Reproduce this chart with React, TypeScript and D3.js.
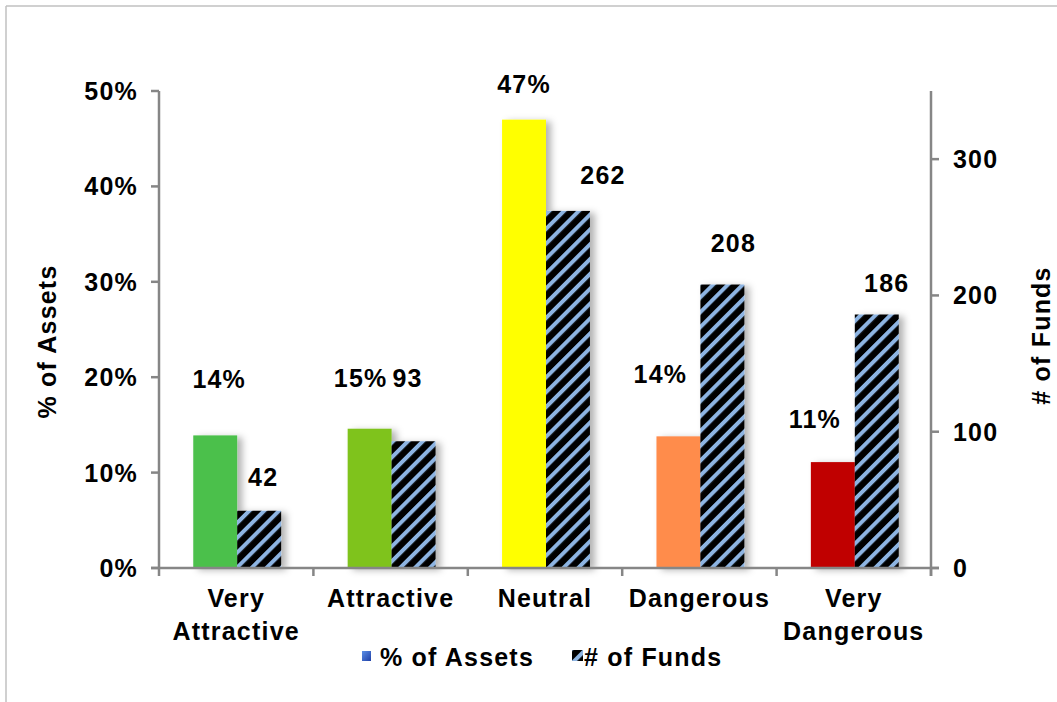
import * as d3 from "d3";
import { useEffect, useRef } from "react";

// data
const categories = ["Very Attractive", "Attractive", "Neutral", "Dangerous", "Very Dangerous"];
const assetsPct = [0.139, 0.146, 0.47, 0.138, 0.111];
const fundsCount = [42, 93, 262, 208, 186];
const barColors = ["#4cc04c", "#7fc31c", "#ffff00", "#ff8c4c", "#c00000"];
const leftTicks = [0, 0.1, 0.2, 0.3, 0.4, 0.5];
const rightTicks = [0, 100, 200, 300];

// hand nudges for the value labels (they sit unevenly in the original)
const assetNudge = [[5, 21], [-8, 16], [1, 1], [-17, 27], [-17, 8]];
const fundNudge = [[5, -1], [-5, 28], [36, 1], [12, 7], [11, -3]];

const W = 1057;
const H = 702;
const margin = { top: 91, bottom: 135, left: 159, right: 126 };

const App = () => {
  const ref = useRef<SVGSVGElement | null>(null);

  useEffect(() => {
    const svg = d3.select(ref.current);
    svg.selectAll("*").remove();

    const x0 = margin.left;
    const x1 = W - margin.right;
    const yBottom = H - margin.bottom + 1;
    const yTop = margin.top;

    const font = "'Liberation Sans', Arial, sans-serif";

    const scaleX = d3.scaleBand().domain(categories).range([x0, x1]);
    const scaleSub = d3
      .scaleBand()
      .domain(["assets", "funds"])
      .range([0, scaleX.bandwidth()])
      .paddingOuter(0.757);
    const yLeft = d3.scaleLinear().domain([0, 0.5]).range([yBottom, yTop]);
    const yRight = d3.scaleLinear().domain([0, 350]).range([yBottom, yTop]);

    const defs = svg.append("defs");
    const pat = defs
      .append("pattern")
      .attr("id", "hatch")
      .attr("patternUnits", "userSpaceOnUse")
      .attr("width", 10.5)
      .attr("height", 10.5)
      .attr("patternTransform", "rotate(45)");
    pat.append("rect").attr("width", 10.5).attr("height", 10.5).attr("fill", "#000");
    pat.append("rect").attr("width", 4).attr("height", 10.5).attr("fill", "#8db4e2");

    const shadow = defs.append("filter").attr("id", "shadow").attr("x", "-20%").attr("y", "-10%").attr("width", "160%").attr("height", "130%");
    shadow
      .append("feDropShadow")
      .attr("dx", 5)
      .attr("dy", 2)
      .attr("stdDeviation", 3.5)
      .attr("flood-color", "#000")
      .attr("flood-opacity", 0.3);

    const grad = defs.append("linearGradient").attr("id", "legendBlue").attr("x1", 0).attr("y1", 0).attr("x2", 1).attr("y2", 1);
    grad.append("stop").attr("offset", "0%").attr("stop-color", "#5b8fe6");
    grad.append("stop").attr("offset", "100%").attr("stop-color", "#1f3fa6");

    // frame
    svg.append("line").attr("x1", 6).attr("y1", 6).attr("x2", W).attr("y2", 6).attr("stroke", "#c0c0c0").attr("stroke-width", 1.5);
    svg.append("line").attr("x1", 6).attr("y1", 6).attr("x2", 6).attr("y2", H).attr("stroke", "#c0c0c0").attr("stroke-width", 1.5);

    // bars
    const bars = svg.append("g").attr("filter", "url(#shadow)");
    bars
      .selectAll(".barAssets")
      .data(categories)
      .enter()
      .append("rect")
      .attr("x", (d) => scaleX(d)! + scaleSub("assets")! + 1)
      .attr("y", (d, i) => yLeft(assetsPct[i]))
      .attr("width", scaleSub.bandwidth())
      .attr("height", (d, i) => yBottom - yLeft(assetsPct[i]))
      .attr("fill", (d, i) => barColors[i]);
    bars
      .selectAll(".barFunds")
      .data(categories)
      .enter()
      .append("rect")
      .attr("x", (d) => scaleX(d)! + scaleSub("funds")! + 1)
      .attr("y", (d, i) => yRight(fundsCount[i]))
      .attr("width", scaleSub.bandwidth())
      .attr("height", (d, i) => yBottom - yRight(fundsCount[i]))
      .attr("fill", "url(#hatch)");

    const axisColor = "#868686";

    // left axis
    const left = svg.append("g");
    left.append("line").attr("x1", x0).attr("x2", x0).attr("y1", yTop).attr("y2", yBottom + 8).attr("stroke", axisColor).attr("stroke-width", 2.5);
    leftTicks.forEach((t) => {
      left.append("line").attr("x1", x0 - 8).attr("x2", x0).attr("y1", yLeft(t)).attr("y2", yLeft(t)).attr("stroke", axisColor).attr("stroke-width", 2.5);
      left
        .append("text")
        .attr("x", 138)
        .attr("y", yLeft(t))
        .attr("dy", "0.36em")
        .attr("text-anchor", "end")
        .text(d3.format(".0%")(t));
    });

    // right axis
    const right = svg.append("g");
    right.append("line").attr("x1", x1).attr("x2", x1).attr("y1", yTop).attr("y2", yBottom + 8).attr("stroke", axisColor).attr("stroke-width", 2.5);
    rightTicks.forEach((t) => {
      right.append("line").attr("x1", x1).attr("x2", x1 + 8).attr("y1", yRight(t)).attr("y2", yRight(t)).attr("stroke", axisColor).attr("stroke-width", 2.5);
      right
        .append("text")
        .attr("x", 953)
        .attr("y", yRight(t))
        .attr("dy", "0.36em")
        .attr("text-anchor", "start")
        .text(t);
    });

    // bottom axis with category dividers
    const bottom = svg.append("g");
    bottom.append("line").attr("x1", x0 - 8).attr("x2", x1 + 8).attr("y1", yBottom).attr("y2", yBottom).attr("stroke", axisColor).attr("stroke-width", 2.5);
    categories.forEach((c) => {
      const bx = scaleX(c)! + scaleX.bandwidth();
      bottom.append("line").attr("x1", bx).attr("x2", bx).attr("y1", yBottom).attr("y2", yBottom + 8).attr("stroke", axisColor).attr("stroke-width", 2.5);
      const words = c.split(" ");
      const t = bottom
        .append("text")
        .attr("x", scaleX(c)! + scaleX.bandwidth() / 2)
        .attr("y", 607)
        .attr("text-anchor", "middle");
      words.forEach((w, k) => {
        t.append("tspan")
          .attr("x", scaleX(c)! + scaleX.bandwidth() / 2)
          .attr("dy", k === 0 ? 0 : 33)
          .text(w);
      });
    });

    // value labels
    svg
      .selectAll(".lblAssets")
      .data(categories)
      .enter()
      .append("text")
      .attr("text-anchor", "middle")
      .attr("x", (d, i) => scaleX(d)! + scaleSub("assets")! + scaleSub.bandwidth() / 2 + assetNudge[i][0])
      .attr("y", (d, i) => yLeft(assetsPct[i]) - 26 - assetNudge[i][1])
      .text((d, i) => d3.format(".0%")(assetsPct[i]));
    svg
      .selectAll(".lblFunds")
      .data(categories)
      .enter()
      .append("text")
      .attr("text-anchor", "middle")
      .attr("x", (d, i) => scaleX(d)! + scaleSub("funds")! + scaleSub.bandwidth() / 2 + fundNudge[i][0])
      .attr("y", (d, i) => yRight(fundsCount[i]) - 26 - fundNudge[i][1])
      .text((d, i) => fundsCount[i]);

    // axis titles
    svg
      .append("text")
      .attr("transform", `translate(56, ${(yTop + yBottom) / 2 + 12}) rotate(-90)`)
      .attr("text-anchor", "middle")
      .text("% of Assets");
    svg
      .append("text")
      .attr("transform", `translate(1050, ${(yTop + yBottom) / 2 + 6}) rotate(-90)`)
      .attr("text-anchor", "middle")
      .text("# of Funds");

    // legend
    const legend = svg.append("g");
    legend.append("rect").attr("x", 362).attr("y", 651).attr("width", 9).attr("height", 10).attr("fill", "url(#legendBlue)");
    legend.append("text").attr("x", 380).attr("y", 666).text("% of Assets");
    legend.append("rect").attr("x", 572).attr("y", 650).attr("width", 11).attr("height", 11).attr("fill", "url(#hatch)");
    legend.append("text").attr("x", 584).attr("y", 666).text("# of Funds");

    svg
      .selectAll("text")
      .style("font-family", font)
      .style("font-weight", "bold")
      .style("font-size", "25px")
      .style("letter-spacing", "1.2px")
      .style("fill", "#000");
  }, []);

  return (
    <svg
      ref={ref}
      width={W}
      height={H}
      style={{ position: "absolute", left: 0, top: 0, background: "#fff" }}
    ></svg>
  );
};

export default App;
